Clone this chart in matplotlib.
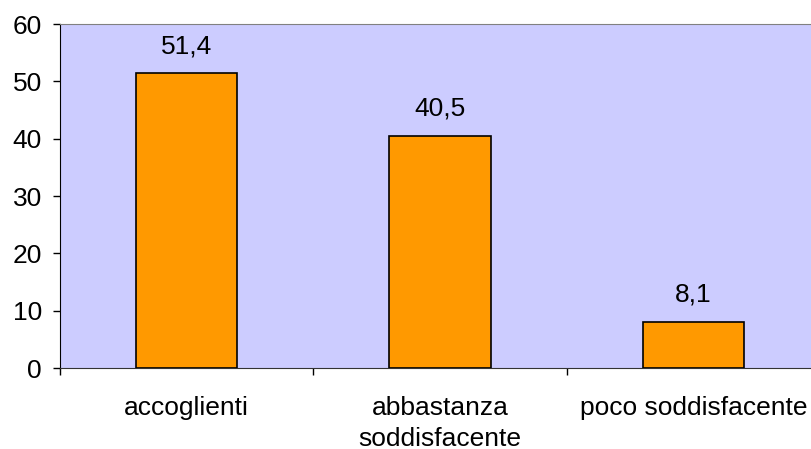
import matplotlib.pyplot as plt

plt.rcParams['font.family'] = ['Liberation Sans', 'DejaVu Sans']

categories = ['accoglienti', 'abbastanza\nsoddisfacente', 'poco soddisfacente']
values = [51.4, 40.5, 8.1]
value_labels = ['51,4', '40,5', '8,1']
yticks = [0, 10, 20, 30, 40, 50, 60]

fig = plt.figure(figsize=(8.11, 4.49), dpi=100)
ax = fig.add_axes([60/811, 81/449, 760/811, 344/449])
ax.set_facecolor('#CCCCFF')

x = range(len(categories))
bars = ax.bar(x, values, width=0.4, color='#FF9900', edgecolor='black', linewidth=1.2, zorder=3)
for xi, v, lab in zip(x, values, value_labels):
    ax.annotate(lab, (xi, v), xytext=(0, 11), textcoords='offset points',
                ha='center', va='bottom', fontsize=19)

ax.set_xlim(-0.5, 2.5)
ax.set_ylim(0, 60)
ax.set_yticks(yticks)
ax.tick_params(axis='y', direction='out', length=5, width=1, pad=8, labelsize=19)

ax.set_xticks([-0.5, 0.5, 1.5, 2.5])
ax.set_xticklabels([])
ax.set_xticks(list(x), minor=True)
ax.set_xticklabels(categories, minor=True, fontsize=19, linespacing=1.4)
ax.tick_params(axis='x', which='major', direction='out', length=5, width=1)
ax.tick_params(axis='x', which='minor', length=0, pad=20)

ax.spines['right'].set_visible(False)
ax.spines['top'].set_color('#808080')
ax.spines['left'].set_color('black')
ax.spines['bottom'].set_color('#333333')

fig.savefig('out.png', dpi=100)
